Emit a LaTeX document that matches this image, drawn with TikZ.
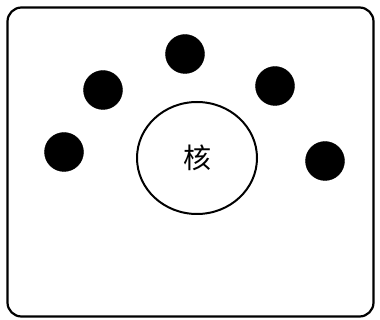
\documentclass[tikz,border=0pt]{standalone}
\usepackage{fontspec}
\newfontfamily\cjk{Noto Sans CJK SC}
\usetikzlibrary{shapes.geometric}
\begin{document}
\begin{tikzpicture}[x=1pt,y=-1pt,
  dot/.style={circle,fill=black,draw=black,minimum size=39pt,inner sep=0pt},
  nucleus/.style={ellipse,draw=black,line width=2pt,minimum width=120pt,minimum height=112pt,inner sep=0pt,font=\cjk\fontsize{28}{28}\selectfont},
  frame/.style={draw=black,line width=2.2pt,rounded corners=14pt}]
\useasboundingbox (0,0) rectangle (380,320);
\node[frame,minimum width=366pt,minimum height=309pt,inner sep=0pt] (box) at (190.5,162) {};
\node[nucleus] (nuc) at (197,158) {核};
\node[dot] (d1) at (185,54) {};
\node[dot] (d2) at (103,90) {};
\node[dot] (d3) at (275,86) {};
\node[dot] (d4) at (64,152) {};
\node[dot] (d5) at (325,161) {};
\end{tikzpicture}
\end{document}
